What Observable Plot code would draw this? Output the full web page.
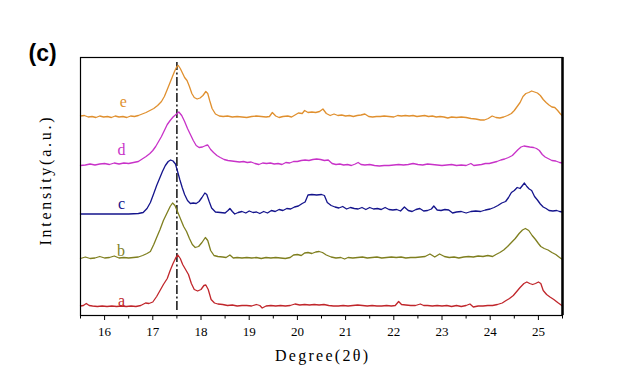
<!DOCTYPE html>
<html>
<head>
<meta charset="utf-8">
<script src="https://cdn.jsdelivr.net/npm/d3@7"></script>
<script src="https://cdn.jsdelivr.net/npm/@observablehq/plot@0.6"></script>
<style>
  html, body { margin: 0; padding: 0; background: #fff; }
  #chart { width: 634px; height: 390px; }
</style>
</head>
<body>
<div id="chart"></div>
<script>
// ---- data (intensity in arbitrary units, curves offset vertically) ----
const aX = [15.5,15.56,15.62,15.68,15.75,15.85,15.95,16.05,16.15,16.25,16.35,16.45,16.55,16.65,16.75,16.85,16.92,17.0,17.08,17.15,17.22,17.3,17.36,17.42,17.48,17.52,17.57,17.62,17.68,17.74,17.8,17.86,17.93,18.0,18.06,18.1,18.15,18.21,18.28,18.35,18.45,18.55,18.65,18.75,18.85,18.95,19.05,19.15,19.22,19.27,19.35,19.45,19.55,19.65,19.75,19.85,19.95,20.05,20.15,20.25,20.35,20.45,20.55,20.65,20.75,20.85,20.95,21.05,21.15,21.25,21.35,21.45,21.55,21.65,21.75,21.85,21.95,22.03,22.1,22.16,22.25,22.35,22.45,22.55,22.62,22.7,22.8,22.9,23.0,23.1,23.2,23.3,23.4,23.5,23.58,23.65,23.75,23.85,23.95,24.05,24.15,24.25,24.33,24.4,24.48,24.55,24.62,24.7,24.76,24.82,24.88,24.94,25.0,25.05,25.1,25.17,25.24,25.32,25.4,25.5];
const aY = [9.5,10,12,10,9.5,9,9.5,9,9.5,9,9.5,9,9.5,9,10,12.5,12,13.5,19,25,31,37,45,52,58,60.5,57,51,46,41,32,26,24.5,26,30,30.5,26,16,12.5,11.5,11,10,10.5,9.5,10,10,9.5,11,10,7.5,9.5,10,9.5,10,9.5,10,11.5,10.5,11,10.5,11,10.5,11,10,9.5,9.5,10,9.5,10,10.5,10,9.5,10,9.5,9.5,10,9.5,10,14,11,10.5,10,10,11.5,10,10,9.5,10,9.5,10,9,10,9,10,11.5,8.5,9.5,9.5,10,10,11,12.5,15,17,20,24,28,32,33.5,32,31,32,33.5,32,25,21,18.5,16,13,9.5];

const bX = [15.5,15.6,15.7,15.8,15.9,16.0,16.1,16.2,16.3,16.4,16.5,16.6,16.7,16.79,16.88,16.95,17.02,17.08,17.15,17.22,17.3,17.36,17.41,17.46,17.52,17.58,17.64,17.7,17.76,17.82,17.88,17.95,18.02,18.09,18.14,18.2,18.27,18.35,18.45,18.52,18.6,18.67,18.75,18.85,18.95,19.05,19.15,19.25,19.35,19.45,19.55,19.65,19.75,19.85,19.92,20.0,20.08,20.15,20.22,20.3,20.38,20.45,20.52,20.6,20.7,20.8,20.9,20.98,21.05,21.15,21.25,21.35,21.45,21.55,21.65,21.75,21.85,21.95,22.05,22.15,22.25,22.35,22.45,22.55,22.65,22.75,22.85,22.95,23.05,23.15,23.25,23.35,23.45,23.55,23.65,23.75,23.85,23.95,24.05,24.12,24.2,24.28,24.36,24.44,24.52,24.6,24.67,24.73,24.8,24.87,24.94,25.0,25.05,25.12,25.2,25.28,25.36,25.44,25.5];
const bY = [57,58.5,57,57.5,59,57.5,58,59.5,57.5,58,57.5,58,58.5,60,62,64,71,78,86,95,103,109,112.5,110,103,96,89,84,77,71,68,69,73,78,75,65,60,59,58.5,58,60.5,57.5,58,57.5,58,57.5,58,57,58,57.5,58,57.5,57,58,60.5,61,60,62.5,63,62,63.5,64,63,60.5,58.5,57.5,58,56.5,58,57.5,58,58.5,57.5,58,58.5,57.5,58,58.5,58,58.5,57.5,58,58,58.5,59,61.5,58.5,61.5,59,58,58.5,57.5,58.5,59,58.5,59.5,59,60,59,61,63,65.5,69,73,77,82,85.5,87,85,80,76,72,69,67,65.5,63,61,58,56];

const cX = [15.5,15.7,15.9,16.1,16.3,16.5,16.7,16.8,16.88,16.95,17.02,17.08,17.14,17.2,17.26,17.32,17.37,17.42,17.47,17.52,17.56,17.61,17.66,17.72,17.78,17.84,17.9,17.96,18.02,18.08,18.12,18.17,18.22,18.3,18.4,18.5,18.56,18.6,18.65,18.7,18.77,18.85,18.93,19.0,19.08,19.15,19.22,19.3,19.38,19.46,19.54,19.62,19.7,19.78,19.86,19.94,20.02,20.1,20.16,20.22,20.3,20.4,20.5,20.56,20.62,20.7,20.78,20.86,20.94,21.02,21.1,21.18,21.26,21.34,21.42,21.5,21.58,21.66,21.74,21.82,21.9,21.98,22.06,22.14,22.22,22.3,22.38,22.46,22.54,22.62,22.7,22.78,22.83,22.9,22.98,23.06,23.14,23.22,23.3,23.4,23.5,23.6,23.7,23.8,23.9,24.0,24.08,24.16,24.24,24.32,24.38,24.44,24.5,24.56,24.62,24.67,24.71,24.76,24.81,24.86,24.92,24.98,25.04,25.1,25.16,25.22,25.3,25.38,25.44,25.5];
const cY = [101.5,101.5,101.5,101.5,101.5,101.5,102,103,107,113,122,130,137,144,150,154,155.5,154.5,151.5,143,136,128,121,115,112,112.5,112,114,118,122.5,121,114,107.5,103.5,103,102.5,105,107,104,101.5,103,104,102.5,104.5,103,103.5,102,104,102.5,105,104,106,105,107,106.5,108.5,109.5,112,113.5,120.5,121,120.5,121,120,113,110,108.5,107.5,109,106.5,108,107,106.5,108,106,108,106.5,107,106,108,106,105.5,106,104.5,108.5,105,104,106,107,104.5,105,106.5,109.5,105.5,105,106,105.5,102.5,103.5,104,102.5,104,104.5,104,105.5,106.5,108,110,112.5,114,118,123,125,128,127,130,132.5,129,126.5,125,119,115.5,111.5,108.5,107,105,104.5,105,104,103.5];

const dX = [15.5,15.6,15.7,15.8,15.9,16.0,16.1,16.2,16.3,16.4,16.5,16.6,16.7,16.78,16.86,16.94,17.0,17.06,17.12,17.18,17.24,17.3,17.36,17.42,17.48,17.54,17.6,17.66,17.72,17.78,17.84,17.9,17.96,18.03,18.1,18.14,18.2,18.26,18.33,18.4,18.48,18.56,18.64,18.72,18.8,18.88,18.96,19.04,19.12,19.2,19.28,19.36,19.44,19.52,19.6,19.68,19.76,19.84,19.92,20.0,20.08,20.16,20.24,20.32,20.4,20.48,20.56,20.64,20.72,20.8,20.88,20.96,21.04,21.12,21.2,21.26,21.32,21.4,21.5,21.6,21.7,21.8,21.9,22.0,22.1,22.2,22.3,22.4,22.5,22.6,22.7,22.8,22.9,23.0,23.1,23.2,23.3,23.4,23.5,23.6,23.66,23.74,23.82,23.9,23.98,24.06,24.14,24.22,24.3,24.38,24.46,24.52,24.58,24.64,24.7,24.76,24.82,24.9,24.96,25.02,25.08,25.14,25.2,25.28,25.36,25.44,25.5];
const dY = [150,150.5,151.5,150.5,151.5,152,151,152.5,151.5,152.5,152,153,154,156.5,159,162,165,169,174,179,185,191,195,198.5,201,203.5,200,194,187,181,175,170,168,168.5,170,170.5,166,163,160,158,156,155,154.5,154,153.5,154,153,153.5,152,151,152.5,152,152.5,151.5,152,151,153,152.5,154,154,155,155.5,155,156,156.5,156,155,155.5,152,151,151.5,150.5,151,150,151.5,153,151,150.5,151,150,149.5,150,150,150.5,151,150.5,151,152,151,150.5,151.5,151,150.5,150,150.5,151,150,150.5,150,152,150,150.5,151,152,152,153,154,155.5,156.5,158,160,163,166,168.5,169.5,169,168.5,168,167,165,161,158.5,157,155,154.5,153,152.5];

const eX = [15.5,15.58,15.66,15.74,15.82,15.9,15.98,16.06,16.14,16.22,16.3,16.38,16.46,16.54,16.62,16.7,16.78,16.86,16.94,17.02,17.1,17.18,17.24,17.3,17.35,17.4,17.45,17.5,17.53,17.57,17.61,17.66,17.71,17.76,17.81,17.86,17.92,17.98,18.04,18.1,18.14,18.18,18.23,18.3,18.38,18.46,18.55,18.65,18.75,18.85,18.95,19.05,19.15,19.25,19.35,19.42,19.48,19.55,19.62,19.7,19.8,19.88,19.95,20.02,20.1,20.15,20.22,20.3,20.38,20.46,20.53,20.6,20.68,20.76,20.84,20.92,21.0,21.08,21.16,21.24,21.32,21.4,21.48,21.56,21.64,21.72,21.8,21.9,22.0,22.08,22.16,22.24,22.32,22.4,22.48,22.56,22.64,22.72,22.8,22.88,22.96,23.04,23.12,23.2,23.3,23.4,23.5,23.6,23.7,23.8,23.88,23.96,24.04,24.12,24.2,24.28,24.36,24.44,24.5,24.56,24.62,24.68,24.74,24.8,24.86,24.92,24.98,25.04,25.1,25.16,25.22,25.28,25.34,25.4,25.45,25.5];
const eY = [199.5,200,198.5,199,198,199.5,198.5,199,198,199.5,198.5,199,198,199.5,199,200,201.5,203,205,207,210,214,219,226,232,238,244,249,250,247,243,238,235,229,222,218,216.5,217.5,220,224,222,215,207,201.5,199.5,199,199.5,198.5,199,198.5,198,199,199.5,199,198.5,199,203,199.5,198,199,199.5,198.5,200.5,202.5,202,205,203,203.5,203,204,206.5,202,200,201.5,200,200.5,199.5,200,199,200,200.5,201.5,199,198.5,199,199,199.5,199,198.5,200,199.5,200,199.5,200,199,199.5,200,199,199.5,198.5,199,198.5,197.5,198.5,198,198.5,198,197,196.5,195.5,195.5,197,199.5,198,197.5,198.5,200,202,205,209,213,219,222,223,224.5,223.5,222.5,220,216,213,210.5,208.5,208,205,202,199.5];

const seriesNames = ["a", "b", "c", "d", "e"];
const seriesColors = ["#c0262b", "#7f7f1f", "#14148c", "#c832c8", "#e0902f"];
const labelX = [16.35, 16.34, 16.35, 16.35, 16.39];
const labelY = [15, 65, 112, 166, 213.5];
const majorTicks = [16, 17, 18, 19, 20, 21, 22, 23, 24, 25];
const minorTicks = [15.5, 16.5, 17.5, 18.5, 19.5, 20.5, 21.5, 22.5, 23.5, 24.5, 25.5];
const refLineX = [17.5];
const xLabel = "Degree(2θ)";
const yLabel = "Intensity(a.u.)";
const panelLabel = "(c)";

const allX = [aX, bX, cX, dX, eX];
const allY = [aY, bY, cY, dY, eY];
const rows = [];
seriesNames.forEach((s, i) => {
  allX[i].forEach((x, j) => rows.push({series: s, x, y: allY[i][j]}));
});
const labels = seriesNames.map((s, i) => ({series: s, x: labelX[i], y: labelY[i]}));

const serif = "Liberation Serif";
const sans = "Liberation Sans";

const chart = Plot.plot({
  width: 634,
  height: 390,
  marginLeft: 80,
  marginRight: 72,
  marginTop: 57,
  marginBottom: 75,
  style: {background: "#fff", overflow: "visible"},
  x: {domain: [15.5, 25.5]},
  y: {domain: [0, 258], axis: null},
  color: {domain: seriesNames, range: seriesColors},
  marks: [
    Plot.ruleX(refLineX, {y1: 5, y2: 253, stroke: "#000", strokeWidth: 1.4, strokeDasharray: "9,2.5,2,2.5"}),
    Plot.line(rows, {x: "x", y: "y", z: "series", stroke: "series", strokeWidth: 1.3}),
    Plot.text(labels, {x: "x", y: "y", text: "series", fill: "series", fontSize: 16}),
    Plot.frame({stroke: "#000", strokeWidth: 1.2}),
    Plot.ruleX([25.5], {stroke: "#000", strokeWidth: 2.5}),
    Plot.axisX({ticks: majorTicks, tickSize: 5, tickPadding: 6, tickFormat: d => String(d), fontSize: 13, label: null, stroke: "#000", color: "#000"}),
    Plot.axisX({ticks: minorTicks, tickSize: 3.5, tickFormat: () => "", label: null, stroke: "#000"}),
    Plot.text([xLabel], {frameAnchor: "bottom", textAnchor: "middle", lineAnchor: "middle", dy: 40, fontSize: 16, fill: "#000"}),
    Plot.text([yLabel], {frameAnchor: "left", textAnchor: "middle", lineAnchor: "middle", dx: -35, dy: -5, rotate: -90, fontSize: 16, fill: "#000"}),
    Plot.text([panelLabel], {frameAnchor: "top-left", textAnchor: "start", lineAnchor: "middle", dx: -52, dy: -4, fontSize: 23, fontWeight: "bold", fill: "#000"})
  ]
});

d3.select(chart).selectAll("text").each(function() {
  const t = this.textContent;
  const sel = d3.select(this);
  if (t === panelLabel) { sel.style("font-family", sans).style("font-weight", "bold"); return; }
  sel.style("font-family", serif);
  if (t === yLabel) sel.attr("textLength", 128).attr("lengthAdjust", "spacing");
  if (t === xLabel) sel.attr("textLength", 93).attr("lengthAdjust", "spacing");
});

document.getElementById("chart").appendChild(chart);
</script>
</body>
</html>
